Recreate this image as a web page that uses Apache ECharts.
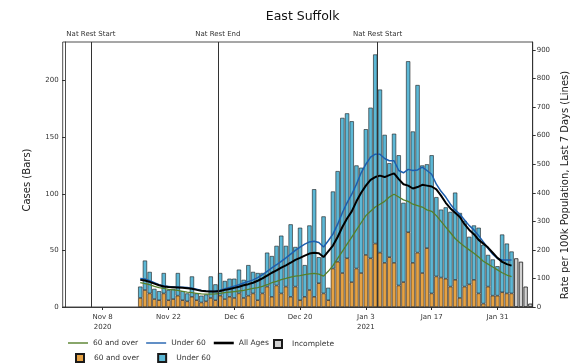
<!DOCTYPE html>
<html><head><meta charset="utf-8">
<script src="https://cdn.jsdelivr.net/npm/echarts@6/dist/echarts.min.js"></script>
<style>html,body{margin:0;padding:0;background:#fff}#c{width:572px;height:364px}</style>
</head><body><div id="c"></div>
<script>
// ---- axis range / categories ----
const axisStartDate = '2020-10-31';
const axisDayCount = 100;
const firstDataDate = '2020-11-16';
const tickLabelDates = ['2020-11-08','2020-11-22','2020-12-06','2020-12-20','2021-01-03','2021-01-17','2021-01-31'];
const tickYearLabels = {'2020-11-08':'2020','2021-01-03':'2021'};
const restrictionDates = ['2020-11-05','2020-12-02','2021-01-05'];
const restrictionLabels = ['Nat Rest Start','Nat Rest End','Nat Rest Start'];

// ---- daily cases, 16 Nov 2020 .. 3 Feb 2021 (complete days) ----
const over60Cases = [8,15,12,7,6,12,6,7,10,6, 5,9,6,4,5,8,6,10,7,9, 8,12,8,10,12,6,12,18,9,19,
  12,18,9,18,6,9,15,9,21,12, 6,34,40,30,43,22,34,30,46,43, 56,48,39,44,39,19,22,66,39,48,
  30,52,12,27,26,25,18,24,8,18, 20,24,12,3,18,10,10,13,12,12];
const under60Cases = [10,26,19,9,8,18,9,9,20,8, 7,18,6,6,6,19,14,20,16,16, 17,21,16,27,19,24,18,30,36,35,
  51,36,64,35,64,28,57,95,23,68, 11,68,80,137,128,142,91,93,111,133, 167,144,113,83,114,115,70,151,116,148,
  95,74,122,70,60,63,66,77,75,58, 42,48,58,52,28,32,26,51,44,37];
// incomplete days 4 Feb .. 7 Feb 2021
const incompleteCases = [43,40,18,3];

// ---- rate per 100k, last 7 days, 16 Nov .. 3 Feb ----
const rateOver60 = [85,82,78,72,68,65,62,60,58,55, 52,50,48,46,45,45,46,48,50,52, 54,56,58,62,65,68,72,78,85,90,
  96,100,105,108,110,113,116,118,115,108, 125,145,170,195,220,245,270,295,320,335,
  350,360,370,385,395,385,375,370,360,355, 350,340,335,320,300,280,260,240,225,212,
  200,188,175,160,150,140,130,120,112,106];
const rateUnder60 = [100,98,92,85,78,74,72,70,70,69, 68,66,62,58,56,55,56,59,64,68, 73,78,84,89,95,103,113,125,137,148,
  160,172,185,198,210,220,228,230,226,210, 232,255,290,330,365,395,430,470,500,525,
  535,535,520,512,512,478,470,482,478,480, 490,478,465,430,405,385,360,340,325,305,
  285,270,250,228,205,185,170,165,165,165];
const rateAllAges = [95,93,88,82,76,72,70,69,68,67, 66,64,60,57,55,54,54,56,60,63, 67,71,76,80,85,92,100,110,120,128,
  138,146,155,165,172,180,187,190,188,175, 195,215,245,280,310,335,370,400,425,445,
  455,460,455,462,468,448,430,425,415,420, 428,425,422,412,390,365,345,330,315,290,
  270,255,235,222,208,190,172,158,150,145];

// ---- build categories ----
const MONTHS = ['Jan','Feb','Mar','Apr','May','Jun','Jul','Aug','Sep','Oct','Nov','Dec'];
const isoList = [], catLabels = [];
const t0 = Date.parse(axisStartDate + 'T00:00:00Z');
for (let i = 0; i < axisDayCount; i++) {
  const d = new Date(t0 + i * 86400000);
  isoList.push(d.toISOString().slice(0, 10));
  catLabels.push(MONTHS[d.getUTCMonth()] + ' ' + d.getUTCDate());
}
const idxOf = iso => isoList.indexOf(iso);
const off = idxOf(firstDataDate);
function pad(arr, start) {
  const out = new Array(axisDayCount).fill(null);
  arr.forEach((v, i) => { out[start + i] = v; });
  return out;
}
const incStart = off + over60Cases.length;
const tickIdx = new Set(tickLabelDates.map(idxOf));
const showTick = (index) => tickIdx.has(index);

const FONT = 'DejaVu Sans';
const LINE_ICON = 'path://M0,0H20V1.4H0Z';
const THICK_ICON = 'path://M0,0H20V2.6H0Z';
const legendText = {fontSize: 7.5, color: '#333', fontFamily: FONT};
const chart = echarts.init(document.getElementById('c'), null, {renderer: 'canvas'});
chart.setOption({
  animation: false,
  textStyle: {fontFamily: FONT},
  title: {text: 'East Suffolk', left: 297.7, top: 5, textAlign: 'center',
    textStyle: {fontSize: 12.5, fontWeight: 'normal', color: '#111', fontFamily: FONT}},
  grid: {left: 62.7, right: 39.3, top: 42, bottom: 57, show: true, borderColor: '#222', borderWidth: 0.8, backgroundColor: 'transparent'},
  legend: [
    {data: [{name: '60 and over', icon: LINE_ICON}, {name: 'Under 60', icon: LINE_ICON}, {name: 'All Ages', icon: THICK_ICON}],
      left: 63, top: 334, itemWidth: 20, itemHeight: 8, itemGap: 8,
      textStyle: legendText, selectedMode: false},
    {data: [{name: 'Incomplete', icon: 'rect'}], left: 268, top: 334, itemWidth: 8, itemHeight: 8,
      textStyle: Object.assign({padding: [0,0,0,5]}, legendText), selectedMode: false},
    {data: [{name: 'Bars 60 and over', icon: 'rect'}, {name: 'Bars Under 60', icon: 'rect'}], left: 70, top: 348, itemWidth: 8, itemHeight: 8, itemGap: 18,
      formatter: n => n.replace('Bars ', ''),
      textStyle: Object.assign({padding: [0,0,0,5]}, legendText), selectedMode: false}
  ],
  xAxis: [
    {type: 'category', data: catLabels, boundaryGap: true,
      axisLine: {show: true, lineStyle: {color: '#222', width: 0.8}},
      axisTick: {show: true, interval: showTick, alignWithLabel: true, length: 3, lineStyle: {color: '#333'}},
      axisLabel: {interval: showTick, fontSize: 7, color: '#333', margin: 5, lineHeight: 10,
        formatter: (v, i) => { const iso = isoList[i]; return tickYearLabels[iso] ? v + '\n' + tickYearLabels[iso] : v; }},
      splitLine: {show: false}},
    {type: 'value', min: -0.5, max: axisDayCount - 0.5, show: false}
  ],
  yAxis: [
    {type: 'value', min: 0, max: 234, interval: 50, position: 'left',
      axisLine: {show: true, lineStyle: {color: '#222', width: 0.8}},
      axisTick: {show: true, length: 3, lineStyle: {color: '#333'}},
      axisLabel: {fontSize: 7, color: '#333', margin: 4, showMaxLabel: false},
      splitLine: {show: false}},
    {type: 'value', min: 0, max: 928, interval: 100, position: 'right',
      axisLine: {show: true, lineStyle: {color: '#222', width: 0.8}},
      axisTick: {show: true, length: 3, lineStyle: {color: '#333'}},
      axisLabel: {fontSize: 7, color: '#333', margin: 4, showMaxLabel: false},
      splitLine: {show: false}}
  ],
  graphic: [
    {type: 'text', x: 27, y: 180, rotation: Math.PI / 2,
      style: {text: 'Cases (Bars)', fontSize: 10, fill: '#222', fontFamily: FONT, align: 'center', verticalAlign: 'middle'}},
    {type: 'text', x: 565, y: 185, rotation: Math.PI / 2,
      style: {text: 'Rate per 100k Population, Last 7 Days (Lines)', fontSize: 10, fill: '#222', fontFamily: FONT, align: 'center', verticalAlign: 'middle'}}
  ],
  series: [
    {name: 'Bars 60 and over', type: 'bar', stack: 'cases', data: pad(over60Cases, off), barCategoryGap: '10%',
      itemStyle: {color: '#e6a243', borderColor: '#1a1a1a', borderWidth: 0.6}},
    {name: 'Bars Under 60', type: 'bar', stack: 'cases', data: pad(under60Cases, off),
      itemStyle: {color: '#5cb8d6', borderColor: '#1a1a1a', borderWidth: 0.6}},
    {name: 'Incomplete', type: 'bar', stack: 'cases', data: pad(incompleteCases, incStart),
      itemStyle: {color: '#d2d2d2', borderColor: '#1a1a1a', borderWidth: 0.8}},
    {name: '60 and over', type: 'line', yAxisIndex: 1, data: pad(rateOver60, off), symbol: 'none',
      lineStyle: {color: '#55802a', width: 1.3}, itemStyle: {color: '#55802a'}},
    {name: 'Under 60', type: 'line', yAxisIndex: 1, data: pad(rateUnder60, off), symbol: 'none',
      lineStyle: {color: '#1d5fae', width: 1.5}, itemStyle: {color: '#1d5fae'}},
    {name: 'All Ages', type: 'line', yAxisIndex: 1, data: pad(rateAllAges, off), symbol: 'none',
      lineStyle: {color: '#000', width: 2}, itemStyle: {color: '#000'}},
    {name: 'restrictions', type: 'line', xAxisIndex: 1, yAxisIndex: 0, data: [], symbol: 'none',
      markLine: {symbol: 'none', silent: true, animation: false,
        lineStyle: {color: '#333', width: 1, type: 'solid'},
        label: {show: true, position: 'end', formatter: p => p.name, fontSize: 7, color: '#333', fontFamily: FONT, distance: 4},
        data: restrictionDates.map((d, i) => ({name: restrictionLabels[i], xAxis: idxOf(d) + 0.5}))}}
  ]
});
</script></body></html>
